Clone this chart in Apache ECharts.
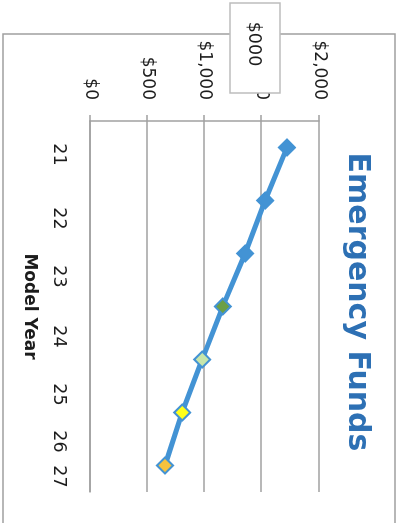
<!DOCTYPE html>
<html>
<head>
<meta charset="utf-8">
<script src="https://cdn.jsdelivr.net/npm/echarts@6/dist/echarts.min.js"></script>
<style>
  html, body { margin: 0; padding: 0; background: #ffffff; }
  body { width: 398px; height: 523px; overflow: hidden; position: relative; }
  /* The chart is laid out landscape and turned a quarter turn clockwise */
  #chart {
    position: absolute; left: 0; top: 0;
    width: 523px; height: 398px;
    transform-origin: 0 0;
    transform: translateX(398px) rotate(90deg);
  }
</style>
</head>
<body>
<div id="chart"></div>
<script>
// Data
const modelYears = ['21', '22', '23', '24', '25', '26', '27'];
const fundValues = [1720, 1530, 1355, 1160, 980, 805, 655];
const valueMin = 0;
const valueMax = 2000;
const valueStep = 500;

// Styling
const markerFills = ['#4393d4', '#4393d4', '#4393d4', '#6b9f47', '#c7e6ab', '#ffff1a', '#f7c23c'];
const yearLabelNudge = [7, 18, 23, 30, 35, 29, 11];
const gridGray = '#a0a0a0';
const textColor = '#1c1c1c';
const font = 'DejaVu Sans';

const rich = {};
yearLabelNudge.forEach((n, i) => {
  rich['y' + i] = { padding: [0, 0, 0, n * 2], fontFamily: font, fontSize: 17.5, color: textColor };
});

const chart = echarts.init(document.getElementById('chart'), null, { width: 523, height: 398, renderer: 'canvas' });

chart.setOption({
  animation: false,
  backgroundColor: '#ffffff',
  title: {
    text: 'Emergency Funds',
    left: 297,
    top: 21,
    textAlign: 'center',
    textStyle: { fontFamily: font, fontWeight: 'bold', fontSize: 30, color: '#2d70b4' }
  },
  grid: { left: 121, right: 31, top: 79, bottom: 90, containLabel: false },
  xAxis: {
    type: 'category',
    data: modelYears,
    boundaryGap: true,
    name: 'Model Year',
    nameLocation: 'middle',
    nameGap: 52,
    nameTextStyle: { fontFamily: font, fontWeight: 'bold', fontSize: 17, color: textColor },
    axisLine: { show: true, lineStyle: { color: gridGray, width: 1.5 } },
    axisTick: { show: false },
    axisLabel: {
      interval: 0,
      margin: 22,
      formatter: (v, i) => '{y' + i + '|' + v + '}',
      rich: rich
    }
  },
  yAxis: {
    type: 'value',
    min: valueMin,
    max: valueMax,
    interval: valueStep,
    axisLine: { show: true, lineStyle: { color: gridGray, width: 1.5 } },
    axisTick: { show: true, length: 6, lineStyle: { color: gridGray, width: 1.5 } },
    splitLine: { show: true, lineStyle: { color: gridGray, width: 1.5 } },
    axisLabel: {
      margin: 21,
      fontFamily: font,
      fontSize: 17,
      color: textColor,
      formatter: v => '$' + v.toLocaleString('en-US')
    }
  },
  series: [{
    type: 'line',
    data: fundValues.map((v, i) => ({ value: v, itemStyle: { color: markerFills[i] } })),
    symbol: 'diamond',
    symbolSize: 16,
    lineStyle: { color: '#4393d4', width: 5 },
    itemStyle: { borderColor: '#4393d4', borderWidth: 2 },
    z: 3
  }],
  graphic: [
    {
      type: 'rect',
      shape: { x: 34, y: 3, width: 600, height: 392 },
      style: { fill: 'none', stroke: '#a0a0a0', lineWidth: 1.5 },
      z: 1
    },
    {
      type: 'group',
      z: 100,
      children: [
        {
          type: 'rect',
          shape: { x: 3, y: 118, width: 90, height: 50 },
          style: { fill: '#ffffff', stroke: '#bdbdbd', lineWidth: 1.5 },
          z: 100
        },
        {
          type: 'text',
          x: 44, y: 144,
          style: {
            text: '$000', fontFamily: font, fontSize: 17.5, fill: textColor,
            textAlign: 'center', textVerticalAlign: 'middle'
          },
          z: 101
        }
      ]
    }
  ]
});
</script>
</body>
</html>
